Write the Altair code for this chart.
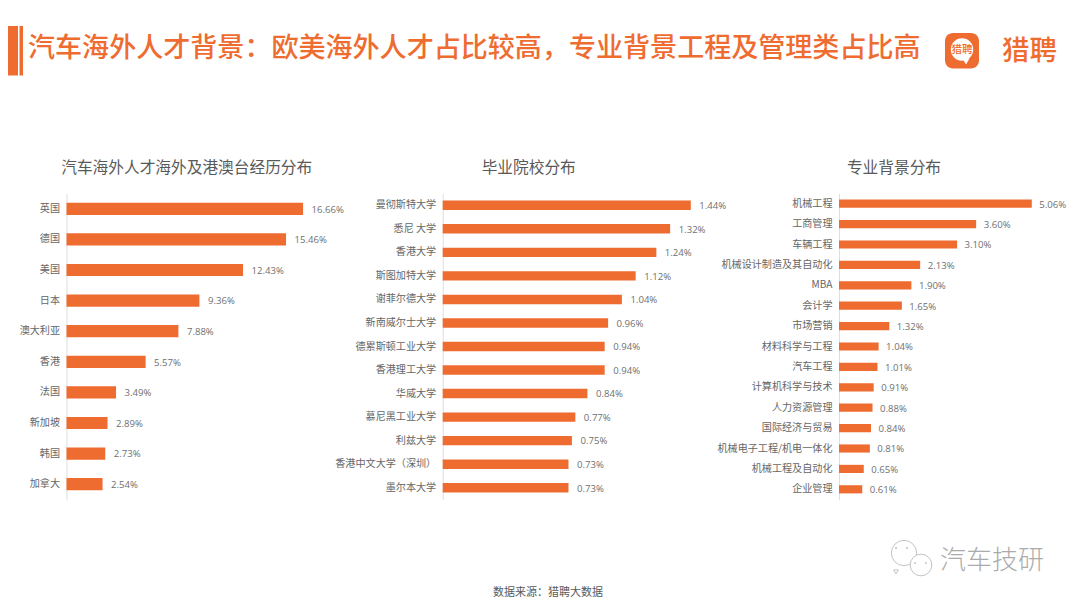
import altair as alt
import pandas as pd

CJK = "Noto Sans CJK SC"
LATIN = "Open Sans"
ORANGE = "#EF6C31"
GREY = "#595959"

abroad_cats = ["英国", "德国", "美国", "日本", "澳大利亚", "香港", "法国", "新加坡", "韩国", "加拿大"]
abroad_vals = [16.66, 15.46, 12.43, 9.36, 7.88, 5.57, 3.49, 2.89, 2.73, 2.54]

school_cats = ["曼彻斯特大学", "悉尼 大学", "香港大学", "斯图加特大学", "谢菲尔德大学", "新南威尔士大学",
               "德累斯顿工业大学", "香港理工大学", "华威大学", "慕尼黑工业大学", "利兹大学",
               "香港中文大学（深圳）", "墨尔本大学"]
school_vals = [1.44, 1.32, 1.24, 1.12, 1.04, 0.96, 0.94, 0.94, 0.84, 0.77, 0.75, 0.73, 0.73]

major_cats = ["机械工程", "工商管理", "车辆工程", "机械设计制造及其自动化", "MBA", "会计学", "市场营销",
              "材料科学与工程", "汽车工程", "计算机科学与技术", "人力资源管理", "国际经济与贸易",
              "机械电子工程/机电一体化", "机械工程及自动化", "企业管理"]
major_vals = [5.06, 3.60, 3.10, 2.13, 1.90, 1.65, 1.32, 1.04, 1.01, 0.91, 0.88, 0.84, 0.81, 0.65, 0.61]

M = 8  # page margin: reference pixel minus M = chart pixel


def panel(cats, vals, x0, per_unit, xmax, label_dx):
    df = pd.DataFrame({"cat": cats, "v": vals})
    df["lab"] = [f"{v:.2f}%" for v in vals]
    x_scale = alt.Scale(domain=[0, xmax], range=[x0 - M, x0 - M + per_unit * xmax], nice=False)
    y_scale = alt.Scale(domain=cats, range=[193.5 - M, 499.5 - M], paddingInner=0.6, paddingOuter=0.3)
    bars = alt.Chart(df).mark_bar(color=ORANGE).encode(
        x=alt.X("v:Q", scale=x_scale, axis=None),
        y=alt.Y("cat:N", scale=y_scale, sort=cats, axis=alt.Axis(
            title=None, orient="left", offset=-(x0 - M), ticks=False, grid=False,
            domain=True, domainColor="#DEDEDE", domainWidth=1, labelPadding=7,
            labelFont=CJK, labelFontSize=10.1, labelColor="#666666", labelLimit=220)),
    )
    labels = alt.Chart(df).mark_text(align="left", baseline="middle", dx=label_dx, dy=0.8, font=LATIN,
                                     fontSize=9.6, color="#707070").encode(
        x=alt.X("v:Q", scale=x_scale, axis=None),
        y=alt.Y("cat:N", scale=y_scale, sort=cats, axis=None),
        text="lab:N",
    )
    return [bars, labels]


def text(s, x, y, size, color=GREY, align="center", weight="normal", font=CJK):
    return alt.Chart(pd.DataFrame({"t": [s]})).mark_text(
        align=align, baseline="middle", fontSize=size, color=color, fontWeight=weight, font=font
    ).encode(x=alt.value(x - M), y=alt.value(y - M), text="t:N")


def rect(x, x2, y, y2, color, radius=0):
    return alt.Chart(pd.DataFrame({"a": [0]})).mark_rect(color=color, cornerRadius=radius).encode(
        x=alt.value(x - M), x2=alt.value(x2 - M), y=alt.value(y - M), y2=alt.value(y2 - M))


def symbol(x, y, size, shape="circle", fill=None, stroke=None, sw=1):
    kw = dict(shape=shape, size=size, opacity=1)
    if fill:
        kw.update(filled=True, fill=fill, strokeWidth=0)
    else:
        kw.update(filled=False, stroke=stroke, strokeWidth=sw)
    return alt.Chart(pd.DataFrame({"a": [0]})).mark_point(**kw).encode(
        x=alt.value(x - M), y=alt.value(y - M))


layers = []
layers += panel(abroad_cats, abroad_vals, 66.5, 14.2, 20, 8.5)
layers += panel(school_cats, school_vals, 442.7, 172.3, 1.6, 8.5)
layers += panel(major_cats, major_vals, 839, 38.1, 6, 7.5)

layers += [
    rect(0, 18, 26, 75.5, ORANGE),
    rect(19.5, 23, 26, 75.5, ORANGE),
    text("汽车海外人才背景：欧美海外人才占比较高，专业背景工程及管理类占比高", 28, 49, 27.05, ORANGE, "left", 500),
    text("汽车海外人才海外及港澳台经历分布", 186.7, 167.6, 15.7),
    text("毕业院校分布", 528.7, 167.6, 15.7),
    text("专业背景分布", 894, 167.6, 15.7),
    text("数据来源：猎聘大数据", 548, 592.5, 11),
    # logo
    rect(945, 979, 33, 68.5, ORANGE, 8),
    symbol(962, 49.5, 500, fill="white"),
    symbol(966, 61.5, 50, shape="triangle-down", fill="white"),
    text("猎聘", 962, 49.5, 10.5, ORANGE, "center", 500),
    text("猎聘", 1029.5, 52, 27.5, ORANGE, "center", 500),
    # watermark
    symbol(904, 553, 640, stroke="#C4C4C4", sw=1),
    symbol(896, 548, 5, fill="#C4C4C4"),
    symbol(907, 548, 5, fill="#C4C4C4"),
    symbol(896, 572, 22, shape="triangle-down", stroke="#C4C4C4", sw=1),
    symbol(921, 565, 470, fill="white"),
    symbol(921, 565, 470, stroke="#C4C4C4", sw=1),
    symbol(915, 563, 4, fill="#C4C4C4"),
    symbol(926, 563, 4, fill="#C4C4C4"),
    text("汽车技研", 992, 561, 26, "#ABABAB", "center", 300),
]

chart = alt.layer(*layers).resolve_scale(x="independent", y="independent").properties(
    width=1064, height=592, padding=0, background="white",
    autosize=alt.AutoSizeParams(type="none"),
).configure_view(stroke=None)

chart.save("out.html", embed_options={"renderer": "svg", "actions": False})
